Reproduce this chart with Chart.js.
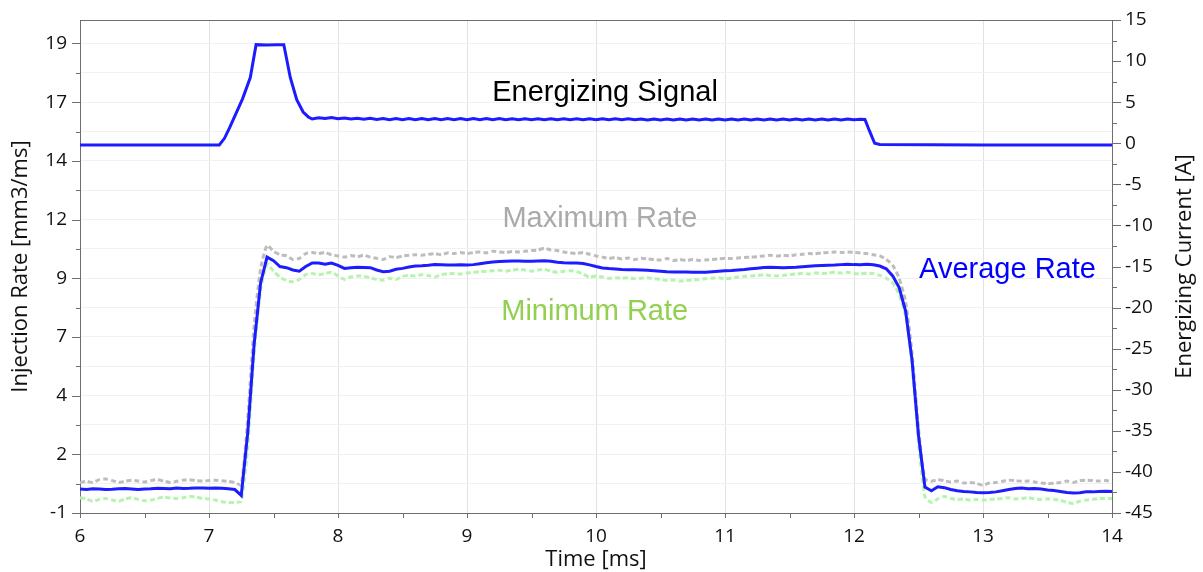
<!DOCTYPE html>
<html>
<head>
<meta charset="utf-8">
<script src="https://cdn.jsdelivr.net/npm/chart.js@4.4.1/dist/chart.umd.min.js"></script>
<style>
html,body{margin:0;padding:0;background:#fff;}
canvas{display:block;}
</style>
</head>
<body>
<canvas id="c" width="1203" height="572"></canvas>
<script>
// ---------- DATA ----------
const rateTimes = [
  6.00,6.05,6.10,6.15,6.20,6.25,6.30,6.35,6.40,6.45,
  6.50,6.55,6.60,6.65,6.70,6.75,6.80,6.85,6.90,6.95,
  7.00,7.05,7.10,7.15,7.20,7.25,7.30,7.35,7.40,7.45,
  7.50,7.55,7.60,7.65,7.70,7.75,7.80,7.85,7.90,7.95,
  8.00,8.05,8.10,8.15,8.20,8.25,8.30,8.35,8.40,8.45,
  8.50,8.55,8.60,8.65,8.70,8.75,8.80,8.85,8.90,8.95,
  9.00,9.05,9.10,9.15,9.20,9.25,9.30,9.35,9.40,9.45,
  9.50,9.55,9.60,9.65,9.70,9.75,9.80,9.85,9.90,9.95,
  10.00,10.05,10.10,10.15,10.20,10.25,10.30,10.35,10.40,10.45,
  10.50,10.55,10.60,10.65,10.70,10.75,10.80,10.85,10.90,10.95,
  11.00,11.05,11.10,11.15,11.20,11.25,11.30,11.35,11.40,11.45,
  11.50,11.55,11.60,11.65,11.70,11.75,11.80,11.85,11.90,11.95,
  12.00,12.05,12.10,12.15,12.20,12.25,12.30,12.35,12.40,12.45,
  12.50,12.55,12.60,12.65,12.70,12.75,12.80,12.85,12.90,12.95,
  13.00,13.05,13.10,13.15,13.20,13.25,13.30,13.35,13.40,13.45,
  13.50,13.55,13.60,13.65,13.70,13.75,13.80,13.85,13.90,13.95,
  14.00
];
const averageRate = [
  0.02,0.00,0.03,0.02,0.00,0.01,0.03,0.04,0.02,0.00,
  0.02,0.03,0.05,0.04,0.03,0.06,0.04,0.05,0.07,0.06,
  0.05,0.06,0.05,0.03,0.00,-0.25,2.4,6.2,8.8,9.9,
  9.75,9.5,9.45,9.35,9.3,9.5,9.65,9.65,9.6,9.65,
  9.55,9.42,9.45,9.47,9.46,9.45,9.35,9.28,9.3,9.38,
  9.42,9.48,9.52,9.53,9.55,9.58,9.57,9.56,9.56,9.57,
  9.56,9.58,9.62,9.66,9.69,9.71,9.72,9.73,9.73,9.72,
  9.72,9.73,9.74,9.72,9.68,9.66,9.65,9.65,9.63,9.57,
  9.5,9.44,9.41,9.39,9.37,9.36,9.36,9.35,9.34,9.32,
  9.3,9.28,9.27,9.27,9.27,9.26,9.25,9.26,9.28,9.3,
  9.32,9.33,9.35,9.37,9.4,9.43,9.46,9.47,9.46,9.45,
  9.46,9.47,9.49,9.51,9.53,9.54,9.55,9.56,9.58,9.6,
  9.58,9.57,9.6,9.57,9.52,9.4,9.1,8.6,7.6,5.5,
  2.3,0.1,-0.05,0.12,0.08,0.0,-0.05,-0.08,-0.1,-0.13,
  -0.14,-0.13,-0.1,-0.05,0.0,0.04,0.06,0.03,0.04,0.02,
  -0.02,-0.04,-0.08,-0.13,-0.15,-0.14,-0.1,-0.1,-0.08,-0.07,
  -0.08
];
const maximumRate = [
  0.3,0.35,0.3,0.42,0.45,0.38,0.3,0.35,0.4,0.36,
  0.32,0.38,0.42,0.36,0.3,0.35,0.4,0.42,0.38,0.36,
  0.38,0.4,0.37,0.35,0.3,0.2,3.0,7.0,9.4,10.4,
  10.15,10.0,9.95,9.8,9.85,10.05,10.1,10.05,10.1,10.0,
  9.95,9.9,9.97,9.92,9.98,9.9,9.85,9.8,9.92,9.88,
  9.95,9.98,10.0,9.98,10.02,10.05,10.0,10.08,10.05,10.1,
  10.05,10.1,10.12,10.08,10.15,10.12,10.1,10.14,10.12,10.15,
  10.18,10.2,10.28,10.2,10.18,10.12,10.08,10.05,10.1,10.02,
  9.95,9.9,9.85,9.88,9.82,9.86,9.8,9.85,9.82,9.8,
  9.78,9.84,9.76,9.8,9.76,9.8,9.76,9.78,9.8,9.82,
  9.85,9.84,9.86,9.88,9.9,9.92,9.95,9.98,9.95,9.97,
  9.96,10.0,10.02,10.05,10.04,10.08,10.1,10.12,10.1,10.12,
  10.1,10.08,10.05,10.0,9.95,9.8,9.55,9.0,8.0,5.8,
  2.6,0.45,0.35,0.42,0.38,0.32,0.36,0.28,0.3,0.26,
  0.18,0.28,0.3,0.35,0.4,0.38,0.35,0.36,0.32,0.28,
  0.25,0.27,0.3,0.36,0.3,0.38,0.4,0.38,0.36,0.38,
  0.35
];
const minimumRate = [
  -0.35,-0.4,-0.5,-0.42,-0.38,-0.45,-0.5,-0.4,-0.35,-0.42,
  -0.48,-0.45,-0.38,-0.32,-0.36,-0.38,-0.35,-0.3,-0.32,-0.38,
  -0.4,-0.45,-0.52,-0.55,-0.55,-0.5,1.8,5.8,8.5,9.6,
  9.3,9.05,8.9,8.85,8.95,9.15,9.2,9.15,9.2,9.25,
  9.1,8.95,9.05,9.1,9.08,9.02,8.95,8.92,9.0,8.95,
  9.08,9.12,9.1,9.15,9.12,9.05,9.15,9.18,9.2,9.18,
  9.22,9.25,9.28,9.3,9.32,9.34,9.3,9.35,9.38,9.35,
  9.3,9.35,9.38,9.3,9.25,9.3,9.32,9.28,9.18,9.05,
  9.1,9.05,9.0,9.02,9.0,9.02,8.98,9.0,9.02,8.98,
  8.95,8.9,8.92,8.88,8.9,8.92,8.95,8.98,9.0,9.02,
  8.98,9.0,9.05,9.08,9.1,9.12,9.15,9.12,9.1,9.12,
  9.15,9.18,9.2,9.18,9.22,9.2,9.22,9.25,9.22,9.25,
  9.2,9.18,9.22,9.2,9.12,9.0,8.8,8.3,7.4,5.3,
  2.0,-0.3,-0.55,-0.4,-0.3,-0.38,-0.42,-0.4,-0.45,-0.42,
  -0.45,-0.42,-0.4,-0.38,-0.35,-0.4,-0.38,-0.35,-0.4,-0.42,
  -0.4,-0.42,-0.45,-0.55,-0.6,-0.5,-0.45,-0.42,-0.38,-0.38,
  -0.38
];
const signalTimes = [
  6.00,7.08,7.12,7.16,7.20,7.26,7.32,7.365,7.45,7.52,7.58,7.63,7.68,7.73,7.77,7.80,
  7.85,7.90,7.95,8.00,8.05,8.10,8.15,8.20,8.25,8.30,
  8.35,8.40,8.45,8.50,8.55,8.60,8.65,8.70,8.75,8.80,
  8.85,8.90,8.95,9.00,9.05,9.10,9.15,9.20,9.25,9.30,
  9.35,9.40,9.45,9.50,9.55,9.60,9.65,9.70,9.75,9.80,
  9.85,9.90,9.95,10.00,10.05,10.10,10.15,10.20,10.25,10.30,
  10.35,10.40,10.45,10.50,10.55,10.60,10.65,10.70,10.75,10.80,
  10.85,10.90,10.95,11.00,11.05,11.10,11.15,11.20,11.25,11.30,
  11.35,11.40,11.45,11.50,11.55,11.60,11.65,11.70,11.75,11.80,
  11.85,11.90,11.95,12.00,12.05,
  12.085,12.12,12.16,12.20,13.00,14.00
];
const signalCurrent = [
  -0.2,-0.2,0.6,1.9,3.3,5.4,8.0,12.0,11.95,12.0,12.0,8.0,5.3,3.8,3.2,2.95,
  3.10,3.00,3.12,2.98,3.08,2.95,3.05,2.92,3.03,2.90,
  3.00,2.86,3.00,2.86,3.00,2.86,3.00,2.86,3.00,2.86,
  3.00,2.86,3.00,2.86,3.00,2.86,3.00,2.86,3.00,2.86,
  2.98,2.85,2.98,2.85,2.98,2.85,2.98,2.85,2.98,2.85,
  2.98,2.85,2.98,2.85,2.98,2.85,2.98,2.85,2.98,2.85,
  2.96,2.84,2.96,2.84,2.96,2.84,2.96,2.84,2.96,2.84,
  2.96,2.84,2.96,2.84,2.96,2.84,2.96,2.84,2.96,2.84,
  2.96,2.84,2.96,2.84,2.96,2.84,2.96,2.84,2.96,2.84,
  2.96,2.84,2.96,2.86,2.92,
  2.9,1.5,0.0,-0.15,-0.2,-0.2
];
const leftTickValues = [-1,0.25,1.5,2.75,4,5.25,6.5,7.75,9,10.25,11.5,12.75,14,15.25,16.5,17.75,19];
const leftMajorValues = [-1,1.5,4,6.5,9,11.5,14,16.5,19];
const leftTickLabels = ['-1','2','4','7','9','12','14','17','19'];
const rightTickValues = [-45,-42.5,-40,-37.5,-35,-32.5,-30,-27.5,-25,-22.5,-20,-17.5,-15,-12.5,-10,-7.5,-5,-2.5,0,2.5,5,7.5,10,12.5,15];
const xTickValues = [6,6.5,7,7.5,8,8.5,9,9.5,10,10.5,11,11.5,12,12.5,13,13.5,14];
const annotationTexts = ['Energizing Signal','Maximum Rate','Average Rate','Minimum Rate'];
const annotationX = [10.07, 10.03, 13.19, 9.99];
const annotationY = [16.9, 11.52, 9.35, 7.56];
const annotationColors = ['#000000','#aaaaaa','#0000ff','#92d050'];
const rightAxisTitle = 'Energizing Current [A]';

// ---------- CHART ----------
const toXY = (xs, ys) => xs.map((x, i) => ({x: x, y: ys[i]}));
const AXIS = '#6e6e6e';
const FAMILY = "'Open Sans', sans-serif";
const TICKFONT = {family: FAMILY, size: 19};
const TITLEFONT = {family: FAMILY, size: 22, lineHeight: 1.1};

const tickMarks = {
  id: 'tickMarks',
  afterDraw(chart) {
    const ctx = chart.ctx;
    const {x, y, y1} = chart.scales;
    const a = chart.chartArea;
    ctx.save();
    ctx.strokeStyle = AXIS;
    ctx.lineWidth = 1;
    ctx.beginPath();
    y.ticks.forEach(t => {
      const p = Math.round(y.getPixelForValue(t.value)) + 0.5;
      const len = leftMajorValues.includes(t.value) ? 8 : 4;
      ctx.moveTo(a.left - len, p); ctx.lineTo(a.left, p);
    });
    y1.ticks.forEach(t => {
      const p = Math.round(y1.getPixelForValue(t.value)) + 0.5;
      const len = (t.value % 5 === 0) ? 9 : 5;
      ctx.moveTo(a.right, p); ctx.lineTo(a.right + len, p);
    });
    x.ticks.forEach(t => {
      const p = Math.round(x.getPixelForValue(t.value)) + 0.5;
      ctx.moveTo(p, a.bottom); ctx.lineTo(p, a.bottom + 5);
    });
    ctx.moveTo(a.left, Math.round(a.top) + 0.5);
    ctx.lineTo(a.right, Math.round(a.top) + 0.5);
    ctx.stroke();
    // right axis title, reading bottom-to-top
    ctx.fillStyle = '#111';
    ctx.font = "22px " + FAMILY;
    ctx.textAlign = 'center';
    ctx.textBaseline = 'middle';
    ctx.translate(y1.right - 18, (a.top + a.bottom) / 2);
    ctx.rotate(-Math.PI / 2);
    ctx.fillText(rightAxisTitle, 0, 0);
    ctx.restore();
  }
};

const annotations = {
  id: 'annotations',
  afterDatasetsDraw(chart) {
    const ctx = chart.ctx;
    const {x, y} = chart.scales;
    ctx.save();
    ctx.font = "29px 'Liberation Sans', Arial, sans-serif";
    ctx.textAlign = 'center';
    ctx.textBaseline = 'middle';
    annotationTexts.forEach((txt, i) => {
      ctx.fillStyle = annotationColors[i];
      ctx.fillText(txt, x.getPixelForValue(annotationX[i]), y.getPixelForValue(annotationY[i]));
    });
    ctx.restore();
  }
};

new Chart(document.getElementById('c'), {
  type: 'line',
  data: {
    datasets: [
      {label: 'Average Rate', data: toXY(rateTimes, averageRate), yAxisID: 'y',
       borderColor: '#1c1cff', borderWidth: 3, pointRadius: 0, tension: 0},
      {label: 'Energizing Signal', data: toXY(signalTimes, signalCurrent), yAxisID: 'y1',
       borderColor: '#1c1cff', borderWidth: 3, pointRadius: 0, tension: 0},
      {label: 'Maximum Rate', data: toXY(rateTimes, maximumRate), yAxisID: 'y',
       borderColor: '#bdbdbd', borderWidth: 3, borderDash: [5, 3], pointRadius: 0, tension: 0.2},
      {label: 'Minimum Rate', data: toXY(rateTimes, minimumRate), yAxisID: 'y',
       borderColor: '#b4f4ac', borderWidth: 3, borderDash: [5, 3], pointRadius: 0, tension: 0.2}
    ]
  },
  options: {
    responsive: false,
    animation: false,
    devicePixelRatio: 1,
    layout: {padding: {top: 20, left: 0, right: 0, bottom: 0}},
    plugins: {legend: {display: false}, tooltip: {enabled: false}},
    scales: {
      x: {
        type: 'linear', min: 6, max: 14,
        afterBuildTicks: s => { s.ticks = xTickValues.map(v => ({value: v})); },
        afterFit: s => { s.height = 59; },
        ticks: {autoSkip: false, maxRotation: 0, padding: 6, color: '#111', font: TICKFONT,
                callback: v => Number.isInteger(v) ? String(v) : ''},
        grid: {color: c => (c.tick && Number.isInteger(c.tick.value)) ? '#e2e2e2' : 'rgba(0,0,0,0)',
               tickColor: 'rgba(0,0,0,0)', tickLength: 6},
        border: {color: AXIS, width: 1},
        title: {display: true, text: 'Time [ms]', color: '#111', font: TITLEFONT, padding: {top: 0, bottom: 0}}
      },
      y: {
        type: 'linear', position: 'left', min: -1, max: 20,
        afterBuildTicks: s => { s.ticks = leftTickValues.map(v => ({value: v})); },
        afterFit: s => { s.width = 80; },
        ticks: {autoSkip: false, padding: 5, color: '#111', font: TICKFONT,
                callback: v => { const i = leftMajorValues.indexOf(v); return i >= 0 ? leftTickLabels[i] : ''; }},
        grid: {color: '#f1f1f1', tickColor: 'rgba(0,0,0,0)', tickLength: 8},
        border: {color: AXIS, width: 1},
        title: {display: true, text: 'Injection Rate [mm3/ms]', color: '#111', font: TITLEFONT, padding: {top: 9, bottom: 0}}
      },
      y1: {
        type: 'linear', position: 'right', min: -45, max: 15,
        afterBuildTicks: s => { s.ticks = rightTickValues.map(v => ({value: v})); },
        afterFit: s => { s.width = 91; },
        ticks: {autoSkip: false, padding: 4, color: '#111', font: TICKFONT,
                callback: v => (v % 5 === 0) ? String(v) : ''},
        grid: {drawOnChartArea: false, tickColor: 'rgba(0,0,0,0)', tickLength: 9},
        border: {color: AXIS, width: 1},
        title: {display: false}
      }
    }
  },
  plugins: [tickMarks, annotations]
});
</script>
</body>
</html>
